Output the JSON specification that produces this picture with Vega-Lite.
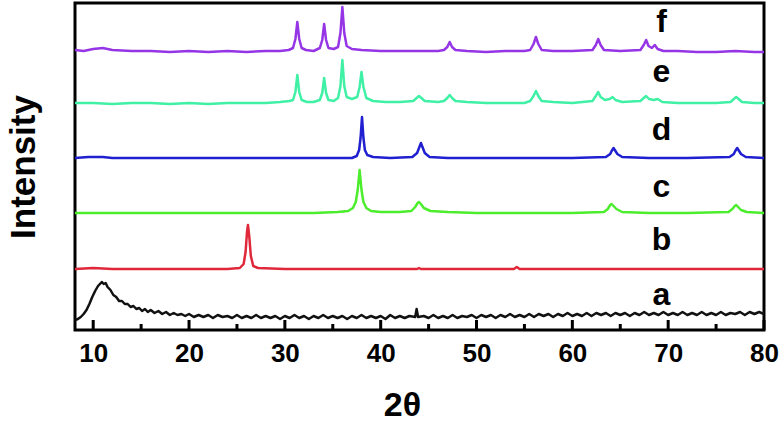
{
"$schema":"https://vega.github.io/schema/vega-lite/v6.json",
"width":689,"height":327,"autosize":"none",
"padding":{"left":75,"top":3,"right":18,"bottom":93},
"config":{"view":{"stroke":"#000","strokeWidth":3},"font":"Liberation Sans"},
"datasets":{
"major":[{"x":10},{"x":20},{"x":30},{"x":40},{"x":50},{"x":60},{"x":70},{"x":80}],
"minor":[{"x":15},{"x":25},{"x":35},{"x":45},{"x":55},{"x":65},{"x":75}],
"labels":[{"t":"f","x":69.3,"y":308},{"t":"e","x":69.3,"y":258},{"t":"d","x":69.3,"y":200},{"t":"c","x":69.3,"y":143},{"t":"b","x":69.3,"y":90},{"t":"a","x":69.3,"y":35}],
"xrd":[
{"s":"f","x":8.1,"y":280},{"s":"f","x":9,"y":279},{"s":"f","x":10,"y":281},{"s":"f","x":11,"y":282},{"s":"f","x":12,"y":280},{"s":"f","x":14,"y":279},{"s":"f","x":16,"y":279},{"s":"f","x":18,"y":278},{"s":"f","x":20,"y":279},{"s":"f","x":22,"y":278},{"s":"f","x":24,"y":279},{"s":"f","x":26,"y":278},{"s":"f","x":28,"y":279},{"s":"f","x":29.5,"y":279},{"s":"f","x":30.4,"y":280},
{"s":"f","x":30.85,"y":282},{"s":"f","x":31.1,"y":291},{"s":"f","x":31.3,"y":308},{"s":"f","x":31.5,"y":291},{"s":"f","x":31.75,"y":282},{"s":"f","x":32.2,"y":280},{"s":"f","x":33,"y":279},
{"s":"f","x":33.65,"y":282},{"s":"f","x":33.9,"y":290},{"s":"f","x":34.1,"y":306},{"s":"f","x":34.3,"y":290},{"s":"f","x":34.55,"y":282},{"s":"f","x":35.1,"y":281},{"s":"f","x":35.55,"y":283},{"s":"f","x":35.8,"y":297},{"s":"f","x":36.0,"y":323},{"s":"f","x":36.2,"y":297},{"s":"f","x":36.45,"y":284},{"s":"f","x":37,"y":281},{"s":"f","x":38,"y":280},{"s":"f","x":40,"y":279},{"s":"f","x":42,"y":279},{"s":"f","x":44,"y":279},{"s":"f","x":46,"y":279},
{"s":"f","x":46.6,"y":280},{"s":"f","x":46.95,"y":283},{"s":"f","x":47.2,"y":288},{"s":"f","x":47.45,"y":283},{"s":"f","x":47.8,"y":280},{"s":"f","x":49,"y":279},{"s":"f","x":51,"y":278},{"s":"f","x":53,"y":279},{"s":"f","x":55,"y":279},
{"s":"f","x":55.6,"y":280},{"s":"f","x":55.95,"y":286},{"s":"f","x":56.2,"y":293},{"s":"f","x":56.45,"y":286},{"s":"f","x":56.8,"y":280},{"s":"f","x":58,"y":279},{"s":"f","x":60,"y":279},
{"s":"f","x":62.1,"y":280},{"s":"f","x":62.45,"y":285},{"s":"f","x":62.7,"y":291},{"s":"f","x":62.95,"y":285},{"s":"f","x":63.3,"y":280},{"s":"f","x":65,"y":279},
{"s":"f","x":67.1,"y":280},{"s":"f","x":67.45,"y":285},{"s":"f","x":67.7,"y":290},{"s":"f","x":67.95,"y":284},{"s":"f","x":68.3,"y":282},{"s":"f","x":68.6,"y":285},{"s":"f","x":68.9,"y":281},{"s":"f","x":69.5,"y":279},{"s":"f","x":71,"y":279},{"s":"f","x":73,"y":278},{"s":"f","x":75,"y":278},{"s":"f","x":77,"y":279},{"s":"f","x":79,"y":278},{"s":"f","x":80,"y":278},

{"s":"e","x":8.1,"y":227},{"s":"e","x":10,"y":227},{"s":"e","x":12,"y":226},{"s":"e","x":14,"y":227},{"s":"e","x":16,"y":227},{"s":"e","x":18,"y":226},{"s":"e","x":20,"y":227},{"s":"e","x":22,"y":226},{"s":"e","x":24,"y":227},{"s":"e","x":26,"y":227},{"s":"e","x":28,"y":227},{"s":"e","x":29.5,"y":228},{"s":"e","x":30.5,"y":229},
{"s":"e","x":30.85,"y":230},{"s":"e","x":31.1,"y":238},{"s":"e","x":31.3,"y":255},{"s":"e","x":31.5,"y":238},{"s":"e","x":31.75,"y":230},{"s":"e","x":32.3,"y":228},{"s":"e","x":33,"y":228},
{"s":"e","x":33.65,"y":230},{"s":"e","x":33.9,"y":237},{"s":"e","x":34.1,"y":252},{"s":"e","x":34.3,"y":237},{"s":"e","x":34.55,"y":230},{"s":"e","x":35.1,"y":229},
{"s":"e","x":35.55,"y":232},{"s":"e","x":35.8,"y":244},{"s":"e","x":36.0,"y":270},{"s":"e","x":36.2,"y":244},{"s":"e","x":36.45,"y":233},{"s":"e","x":37.0,"y":231},
{"s":"e","x":37.55,"y":233},{"s":"e","x":37.8,"y":243},{"s":"e","x":38.0,"y":258},{"s":"e","x":38.2,"y":243},{"s":"e","x":38.5,"y":232},{"s":"e","x":39.2,"y":229},{"s":"e","x":40.5,"y":228},{"s":"e","x":42,"y":228},
{"s":"e","x":43.4,"y":229},{"s":"e","x":43.75,"y":232},{"s":"e","x":44.0,"y":234},{"s":"e","x":44.25,"y":232},{"s":"e","x":44.6,"y":229},{"s":"e","x":46,"y":228},
{"s":"e","x":46.6,"y":229},{"s":"e","x":46.95,"y":232},{"s":"e","x":47.2,"y":235},{"s":"e","x":47.45,"y":232},{"s":"e","x":47.8,"y":229},{"s":"e","x":49,"y":228},{"s":"e","x":51,"y":227},{"s":"e","x":53,"y":227},{"s":"e","x":55,"y":227},
{"s":"e","x":55.6,"y":229},{"s":"e","x":55.95,"y":234},{"s":"e","x":56.2,"y":239},{"s":"e","x":56.45,"y":234},{"s":"e","x":56.8,"y":229},{"s":"e","x":58,"y":228},{"s":"e","x":60,"y":227},
{"s":"e","x":62.1,"y":229},{"s":"e","x":62.45,"y":234},{"s":"e","x":62.7,"y":238},{"s":"e","x":62.95,"y":233},{"s":"e","x":63.4,"y":230},{"s":"e","x":63.9,"y":231},{"s":"e","x":64.2,"y":233},{"s":"e","x":64.5,"y":230},{"s":"e","x":65.2,"y":228},
{"s":"e","x":67.1,"y":229},{"s":"e","x":67.45,"y":232},{"s":"e","x":67.7,"y":234},{"s":"e","x":68.0,"y":231},{"s":"e","x":68.5,"y":230},{"s":"e","x":68.9,"y":231},{"s":"e","x":69.4,"y":228},{"s":"e","x":71,"y":227},{"s":"e","x":73,"y":227},{"s":"e","x":75,"y":227},
{"s":"e","x":76.5,"y":228},{"s":"e","x":76.85,"y":231},{"s":"e","x":77.1,"y":233},{"s":"e","x":77.35,"y":231},{"s":"e","x":77.7,"y":228},{"s":"e","x":79,"y":227},{"s":"e","x":80,"y":227},

{"s":"d","x":8.1,"y":172},{"s":"d","x":9.5,"y":173},{"s":"d","x":11,"y":173},{"s":"d","x":12,"y":172},{"s":"d","x":15,"y":172},{"s":"d","x":20,"y":172},{"s":"d","x":25,"y":172},{"s":"d","x":30,"y":172},{"s":"d","x":35,"y":172},{"s":"d","x":37,"y":172},
{"s":"d","x":37.5,"y":174},{"s":"d","x":37.75,"y":180},{"s":"d","x":37.9,"y":192},{"s":"d","x":38.05,"y":213},{"s":"d","x":38.2,"y":192},{"s":"d","x":38.35,"y":180},{"s":"d","x":38.6,"y":175},{"s":"d","x":39.2,"y":173},{"s":"d","x":41,"y":172},
{"s":"d","x":43.3,"y":173},{"s":"d","x":43.8,"y":177},{"s":"d","x":44.0,"y":182},{"s":"d","x":44.2,"y":187},{"s":"d","x":44.4,"y":182},{"s":"d","x":44.6,"y":177},{"s":"d","x":45.1,"y":173},{"s":"d","x":47,"y":172},{"s":"d","x":50,"y":172},{"s":"d","x":55,"y":172},{"s":"d","x":60,"y":172},
{"s":"d","x":63.5,"y":173},{"s":"d","x":63.95,"y":176},{"s":"d","x":64.1,"y":179},{"s":"d","x":64.3,"y":182},{"s":"d","x":64.5,"y":179},{"s":"d","x":64.7,"y":176},{"s":"d","x":65.2,"y":173},{"s":"d","x":68,"y":172},{"s":"d","x":72,"y":172},
{"s":"d","x":76.4,"y":173},{"s":"d","x":76.85,"y":176},{"s":"d","x":77.0,"y":179},{"s":"d","x":77.2,"y":182},{"s":"d","x":77.4,"y":179},{"s":"d","x":77.6,"y":176},{"s":"d","x":78.1,"y":173},{"s":"d","x":80,"y":172},

{"s":"c","x":8.1,"y":117},{"s":"c","x":10,"y":117},{"s":"c","x":15,"y":117},{"s":"c","x":20,"y":117},{"s":"c","x":25,"y":117},{"s":"c","x":30,"y":117},{"s":"c","x":33,"y":117},{"s":"c","x":35.5,"y":118},{"s":"c","x":36.6,"y":119},
{"s":"c","x":37.1,"y":122},{"s":"c","x":37.4,"y":128},{"s":"c","x":37.6,"y":140},{"s":"c","x":37.8,"y":160},{"s":"c","x":38.0,"y":140},{"s":"c","x":38.2,"y":128},{"s":"c","x":38.5,"y":122},{"s":"c","x":39.0,"y":119},{"s":"c","x":40,"y":118},{"s":"c","x":42,"y":118},
{"s":"c","x":43.2,"y":119},{"s":"c","x":43.6,"y":123},{"s":"c","x":43.85,"y":127},{"s":"c","x":44.0,"y":128},{"s":"c","x":44.2,"y":126},{"s":"c","x":44.5,"y":122},{"s":"c","x":45.2,"y":119},{"s":"c","x":47,"y":118},{"s":"c","x":50,"y":117},{"s":"c","x":55,"y":117},{"s":"c","x":60,"y":117},
{"s":"c","x":63.3,"y":118},{"s":"c","x":63.7,"y":121},{"s":"c","x":63.95,"y":125},{"s":"c","x":64.1,"y":126},{"s":"c","x":64.3,"y":124},{"s":"c","x":64.6,"y":121},{"s":"c","x":65.2,"y":118},{"s":"c","x":68,"y":117},{"s":"c","x":72,"y":117},
{"s":"c","x":76.3,"y":118},{"s":"c","x":76.7,"y":121},{"s":"c","x":76.95,"y":124},{"s":"c","x":77.1,"y":125},{"s":"c","x":77.3,"y":123},{"s":"c","x":77.6,"y":120},{"s":"c","x":78.2,"y":118},{"s":"c","x":80,"y":117},

{"s":"b","x":8.1,"y":61},{"s":"b","x":10,"y":62},{"s":"b","x":12,"y":61},{"s":"b","x":15,"y":61},{"s":"b","x":20,"y":61},{"s":"b","x":24,"y":61},{"s":"b","x":25.3,"y":62},{"s":"b","x":25.7,"y":66},{"s":"b","x":25.9,"y":78},{"s":"b","x":26.05,"y":98},{"s":"b","x":26.15,"y":105},{"s":"b","x":26.3,"y":92},{"s":"b","x":26.45,"y":74},{"s":"b","x":26.7,"y":64},{"s":"b","x":27.2,"y":62},{"s":"b","x":30,"y":61},{"s":"b","x":35,"y":61},{"s":"b","x":40,"y":61},{"s":"b","x":43.8,"y":61},{"s":"b","x":44.0,"y":62},{"s":"b","x":44.2,"y":61},{"s":"b","x":50,"y":61},{"s":"b","x":53.9,"y":61},{"s":"b","x":54.2,"y":63},{"s":"b","x":54.5,"y":61},{"s":"b","x":60,"y":61},{"s":"b","x":65,"y":61},{"s":"b","x":70,"y":61},{"s":"b","x":75,"y":61},{"s":"b","x":80,"y":61},

{"s":"a","x":8.1,"y":10},{"s":"a","x":8.4,"y":11},{"s":"a","x":8.7,"y":13},{"s":"a","x":9.0,"y":16},{"s":"a","x":9.3,"y":20},{"s":"a","x":9.6,"y":26},{"s":"a","x":9.9,"y":33},{"s":"a","x":10.2,"y":39},{"s":"a","x":10.5,"y":44},{"s":"a","x":10.7,"y":46},{"s":"a","x":10.9,"y":48},{"s":"a","x":11.1,"y":46},{"s":"a","x":11.3,"y":47},{"s":"a","x":11.5,"y":43},{"s":"a","x":11.8,"y":40},{"s":"a","x":12.1,"y":35},{"s":"a","x":12.4,"y":33},{"s":"a","x":12.7,"y":29},{"s":"a","x":13.0,"y":29},{"s":"a","x":13.3,"y":26},{"s":"a","x":13.6,"y":26},{"s":"a","x":13.9,"y":23},{"s":"a","x":14.2,"y":24},{"s":"a","x":14.5,"y":21},{"s":"a","x":14.8,"y":22},{"s":"a","x":15.1,"y":19},{"s":"a","x":15.4,"y":21},{"s":"a","x":15.7,"y":18},{"s":"a","x":16.0,"y":20},{"s":"a","x":16.4,"y":17},{"s":"a","x":16.8,"y":19},{"s":"a","x":17.2,"y":16},{"s":"a","x":17.6,"y":18},{"s":"a","x":18.0,"y":15},{"s":"a","x":18.4,"y":17},{"s":"a","x":18.8,"y":15},{"s":"a","x":19.2,"y":16},{"s":"a","x":19.6,"y":14},{"s":"a","x":20.0,"y":16},{"s":"a","x":20.5,"y":13},{"s":"a","x":21.0,"y":15},{"s":"a","x":21.5,"y":13},{"s":"a","x":22.0,"y":15},{"s":"a","x":22.5,"y":12},{"s":"a","x":23.0,"y":15},{"s":"a","x":23.5,"y":13},{"s":"a","x":24.0,"y":14},{"s":"a","x":24.5,"y":12},{"s":"a","x":25.0,"y":15},{"s":"a","x":25.5,"y":12},{"s":"a","x":26.0,"y":14},{"s":"a","x":26.5,"y":12},{"s":"a","x":27.0,"y":15},{"s":"a","x":27.5,"y":12},{"s":"a","x":28.0,"y":14},{"s":"a","x":28.5,"y":12},{"s":"a","x":29.0,"y":14},{"s":"a","x":29.5,"y":11},{"s":"a","x":30.0,"y":14},{"s":"a","x":30.5,"y":12},{"s":"a","x":31.0,"y":15},{"s":"a","x":31.5,"y":12},{"s":"a","x":32.0,"y":14},{"s":"a","x":32.5,"y":11},{"s":"a","x":33.0,"y":14},{"s":"a","x":33.5,"y":12},{"s":"a","x":34.0,"y":15},{"s":"a","x":34.5,"y":12},{"s":"a","x":35.0,"y":14},{"s":"a","x":35.5,"y":12},{"s":"a","x":36.0,"y":14},{"s":"a","x":36.5,"y":11},{"s":"a","x":37.0,"y":14},{"s":"a","x":37.5,"y":12},{"s":"a","x":38.0,"y":15},{"s":"a","x":38.5,"y":12},{"s":"a","x":39.0,"y":14},{"s":"a","x":39.5,"y":12},{"s":"a","x":40.0,"y":14},{"s":"a","x":40.5,"y":11},{"s":"a","x":41.0,"y":15},{"s":"a","x":41.5,"y":12},{"s":"a","x":42.0,"y":14},{"s":"a","x":42.5,"y":12},{"s":"a","x":43.0,"y":14},{"s":"a","x":43.6,"y":13},{"s":"a","x":43.75,"y":21},{"s":"a","x":43.9,"y":13},{"s":"a","x":44.5,"y":14},{"s":"a","x":45.0,"y":12},{"s":"a","x":45.5,"y":15},{"s":"a","x":46.0,"y":12},{"s":"a","x":46.5,"y":14},{"s":"a","x":47.0,"y":12},{"s":"a","x":47.5,"y":15},{"s":"a","x":48.0,"y":12},{"s":"a","x":48.5,"y":14},{"s":"a","x":49.0,"y":13},{"s":"a","x":49.5,"y":15},{"s":"a","x":50.0,"y":12},{"s":"a","x":50.5,"y":15},{"s":"a","x":51.0,"y":13},{"s":"a","x":51.5,"y":15},{"s":"a","x":52.0,"y":12},{"s":"a","x":52.5,"y":15},{"s":"a","x":53.0,"y":13},{"s":"a","x":53.5,"y":16},{"s":"a","x":54.0,"y":13},{"s":"a","x":54.5,"y":15},{"s":"a","x":55.0,"y":13},{"s":"a","x":55.5,"y":16},{"s":"a","x":56.0,"y":13},{"s":"a","x":56.5,"y":16},{"s":"a","x":57.0,"y":14},{"s":"a","x":57.5,"y":16},{"s":"a","x":58.0,"y":13},{"s":"a","x":58.5,"y":16},{"s":"a","x":59.0,"y":14},{"s":"a","x":59.5,"y":17},{"s":"a","x":60.0,"y":14},{"s":"a","x":60.5,"y":16},{"s":"a","x":61.0,"y":14},{"s":"a","x":61.5,"y":17},{"s":"a","x":62.0,"y":14},{"s":"a","x":62.5,"y":17},{"s":"a","x":63.0,"y":15},{"s":"a","x":63.5,"y":17},{"s":"a","x":64.0,"y":14},{"s":"a","x":64.5,"y":17},{"s":"a","x":65.0,"y":15},{"s":"a","x":65.5,"y":17},{"s":"a","x":66.0,"y":14},{"s":"a","x":66.5,"y":17},{"s":"a","x":67.0,"y":15},{"s":"a","x":67.5,"y":18},{"s":"a","x":68.0,"y":15},{"s":"a","x":68.5,"y":17},{"s":"a","x":69.0,"y":15},{"s":"a","x":69.5,"y":18},{"s":"a","x":70.0,"y":15},{"s":"a","x":70.5,"y":17},{"s":"a","x":71.0,"y":15},{"s":"a","x":71.5,"y":18},{"s":"a","x":72.0,"y":15},{"s":"a","x":72.5,"y":17},{"s":"a","x":73.0,"y":15},{"s":"a","x":73.5,"y":18},{"s":"a","x":74.0,"y":15},{"s":"a","x":74.5,"y":17},{"s":"a","x":75.0,"y":15},{"s":"a","x":75.5,"y":18},{"s":"a","x":76.0,"y":15},{"s":"a","x":76.5,"y":17},{"s":"a","x":77.0,"y":16},{"s":"a","x":77.5,"y":18},{"s":"a","x":78.0,"y":15},{"s":"a","x":78.5,"y":18},{"s":"a","x":79.0,"y":16},{"s":"a","x":79.5,"y":18},{"s":"a","x":80.0,"y":16}
]},
"layer":[
{"data":{"name":"xrd"},
"mark":{"type":"line","interpolate":"linear","strokeJoin":"round"},
"encoding":{
"x":{"field":"x","type":"quantitative","scale":{"domain":[8.1,80],"nice":false,"zero":false},
"axis":{"orient":"bottom","values":[10,20,30,40,50,60,70,80],"ticks":false,"domain":false,"grid":false,"labelFontSize":26,"labelFontWeight":"bold","labelColor":"#000","labelPadding":10,"labelFlush":false,"title":"2θ","titleFontSize":34,"titleFontWeight":"bold","titleColor":"#000","titlePadding":22,"titleX":327}},
"y":{"field":"y","type":"quantitative","scale":{"domain":[0,327],"nice":false,"zero":false},
"axis":{"title":"Intensity","ticks":false,"labels":false,"domain":false,"grid":false,"titleFontSize":35,"titleFontWeight":"bold","titleColor":"#000","titlePadding":34}},
"color":{"field":"s","type":"nominal","scale":{"domain":["a","b","c","d","e","f"],"range":["#111111","#e0283a","#4ced2c","#2020d0","#3ff0a5","#9535e6"]},"legend":null},
"strokeWidth":{"field":"s","type":"ordinal","scale":{"domain":["a","b","c","d","e","f"],"range":[2.5,2.5,4,2.5,5,4]},"legend":null}
}},
{"data":{"name":"major"},
"mark":{"type":"rule","color":"#000","strokeWidth":3},
"encoding":{
"x":{"field":"x","type":"quantitative","axis":null},
"y":{"datum":0},
"y2":{"datum":10}
}},
{"data":{"name":"minor"},
"mark":{"type":"rule","color":"#000","strokeWidth":3},
"encoding":{
"x":{"field":"x","type":"quantitative","axis":null},
"y":{"datum":0},
"y2":{"datum":6}
}},
{"data":{"name":"labels"},
"mark":{"type":"text","fontSize":32,"fontWeight":"bold","color":"#000","baseline":"middle","align":"center"},
"encoding":{
"x":{"field":"x","type":"quantitative","axis":null},
"y":{"field":"y","type":"quantitative"},
"text":{"field":"t"}
}}
],
"resolve":{"axis":{"x":"independent"}}
}
